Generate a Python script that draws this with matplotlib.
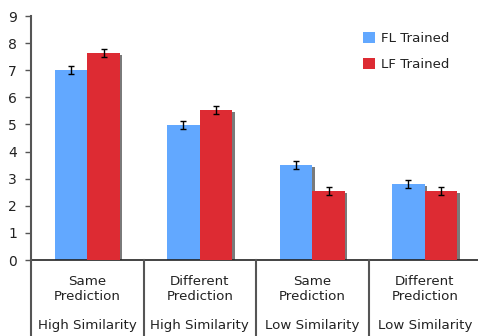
import matplotlib
matplotlib.use("Agg")
import matplotlib.pyplot as plt
from matplotlib.lines import Line2D
import numpy as np

categories = ["Same\nPrediction", "Different\nPrediction", "Same\nPrediction", "Different\nPrediction"]
groups = ["High Similarity", "High Similarity", "Low Similarity", "Low Similarity"]
fl_trained = [7.0, 4.97, 3.5, 2.8]
lf_trained = [7.65, 5.52, 2.53, 2.53]
fl_err = [0.15, 0.15, 0.15, 0.15]
lf_err = [0.15, 0.15, 0.15, 0.15]
series_names = ["FL Trained", "LF Trained"]
yticks = list(range(0, 10))

W, H = 478, 336
fig = plt.figure(figsize=(W / 100, H / 100), dpi=100)
left_px, right_px, top_px, bottom_px = 31, 478, 16, 260
ax = fig.add_axes([left_px / W, 1 - bottom_px / H, (right_px - left_px) / W, (bottom_px - top_px) / H])
group_px = 112.5
ax.set_xlim(0, (right_px - left_px) / group_px)
ax.set_ylim(0, 9)

blue = "#62A8FF"
red = "#DD2B33"
shadow = "#7A7A7A"
bw = 0.29
x = np.arange(len(categories)) + 0.5
off = 2.5 / group_px
# shadows
for xs, vals in ((x - bw / 2, fl_trained), (x + bw / 2, lf_trained)):
    ax.bar(xs + off, np.array(vals) - 2.0 / 27.1, bw, bottom=0, color=shadow, zorder=1)
ax.bar(x - bw / 2, fl_trained, bw, color=blue, zorder=2, label=series_names[0])
ax.bar(x + bw / 2, lf_trained, bw, color=red, zorder=3, label=series_names[1])
ax.errorbar(x - bw / 2, fl_trained, yerr=fl_err, fmt="none", ecolor="black", elinewidth=1, capsize=2.5, capthick=1, zorder=4)
ax.errorbar(x + bw / 2, lf_trained, yerr=lf_err, fmt="none", ecolor="black", elinewidth=1, capsize=2.5, capthick=1, zorder=4)

for s in ["top", "right"]:
    ax.spines[s].set_visible(False)
ax.spines["left"].set_color("#555555")
ax.spines["left"].set_linewidth(1.5)
ax.spines["bottom"].set_color("#222222")
ax.spines["bottom"].set_linewidth(1.2)
ax.set_yticks(yticks)
ax.tick_params(axis="y", direction="out", length=4, width=1, color="#555555", labelsize=10, pad=6)
ax.set_xticks([])
for lab in ax.get_yticklabels():
    lab.set_color("#222222")

# category labels & separators
for i in range(len(categories)):
    cx = (left_px + (i + 0.5) * group_px) / W
    fig.text(cx, 1 - 289 / H, categories[i], ha="center", va="center", fontsize=9.6, color="#222222", linespacing=1.15)
    fig.text(cx, 1 - 326 / H, groups[i], ha="center", va="center", fontsize=9.6, color="#222222")
for i in range(len(categories)):
    sx = (left_px + i * group_px) / W
    fig.add_artist(Line2D([sx, sx], [0, 1 - bottom_px / H], transform=fig.transFigure, color="#555555", lw=1.5))

leg = ax.legend(loc="upper left", bbox_to_anchor=((358 - left_px) / (right_px - left_px), 1 - (27 - top_px) / (bottom_px - top_px)),
                frameon=False, fontsize=9.6, handlelength=0.85, handleheight=0.85, handletextpad=0.45, labelspacing=0.95, borderaxespad=0)
for t in leg.get_texts():
    t.set_color("#222222")

fig.savefig("out.png", dpi=100)
